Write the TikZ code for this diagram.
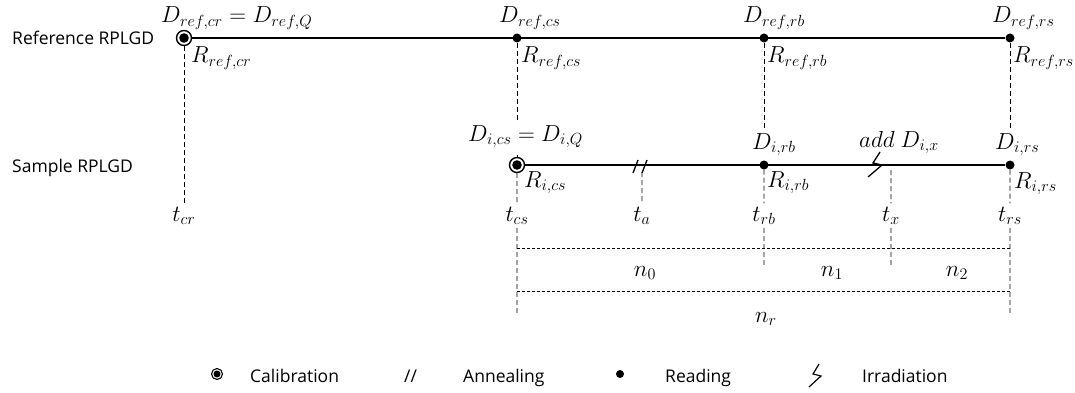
\documentclass[tikz,border=0pt]{standalone}
\usepackage{fontspec}
\setmainfont{Open Sans}

\tikzset{
  timeline/.style={line width=1.6pt},
  vdash/.style={line width=0.9pt, dash pattern=on 5pt off 3pt},
  ndot/.style={line width=0.9pt, dash pattern=on 3pt off 2pt},
  reading/.style={circle, fill, inner sep=0pt, minimum size=#1},
  reading/.default=9pt,
  calib/.style={circle, draw, fill=white, inner sep=0pt, line width=1.4pt, minimum size=#1,
    path picture={\fill[black] (path picture bounding box.center) circle (0.32*#1);}},
  calib/.default=15pt,
  rowlabel/.style={font=\fontsize{17.5}{21}\selectfont, inner sep=0pt, anchor=base west},
  mlabel/.style={font=\fontsize{20}{24}\selectfont, scale=1.12, inner sep=0pt, anchor=base west},
  mbox/.style={mlabel, fill=white, inner sep=3.5pt},
  tlabel/.style={font=\fontsize{20}{24}\selectfont, scale=1.12, inner sep=0pt, outer sep=3pt, anchor=base},
}

\begin{document}
\begin{tikzpicture}[x=1pt,y=-1pt]
\path[use as bounding box, fill=white] (0,0) rectangle (1075,393);

% row labels
\node[rowlabel] (refrow) at (12,45) {Reference RPLGD};
\node[rowlabel] (smprow) at (12,172) {Sample RPLGD};

% reference RPLGD
\node[calib] (refcr) at (184,38) {};
\node[reading] (refcs) at (517,38) {};
\node[reading] (refrb) at (764,38) {};
\node[reading] (refrs) at (1010,38) {};
\draw[timeline] (refcr) -- (refrs);

% sample RPLGD
\node[calib] (smpcs) at (517,165) {};
\coordinate (ann) at (640,165);
\node[reading] (smprb) at (764,165) {};
\coordinate (irr) at (876,165);
\node[reading] (smprs) at (1010,165) {};
\draw[timeline] (smpcs) -- (smprs);
\draw[line width=1.3pt] (ann) ++(-7,8) -- ++(5,-13) (ann) ++(2,8) -- ++(5,-13);
\draw[line width=1.3pt] (irr) ++(4,-13) -- ++(-7,11) -- ++(9,2) -- ++(-14,12);

% time marks
\node[tlabel] (tcr) at (184,221) {$t_{cr}$};
\node[tlabel] (tcs) at (517,221) {$t_{cs}$};
\node[tlabel] (ta) at (642,221) {$t_a$};
\node[tlabel] (trb) at (764,221) {$t_{rb}$};
\node[tlabel] (tx) at (891,221) {$t_x$};
\node[tlabel] (trs) at (1010,221) {$t_{rs}$};
\coordinate (atop) at (642,172);
\coordinate (xtop) at (891,170);
\coordinate (csend) at (517,313);
\coordinate (rbend) at (764,267);
\coordinate (xend) at (891,267);
\coordinate (rsend) at (1010,314);

\draw[vdash] (refcr) -- (tcr);
\draw[vdash] (refcs) -- (smpcs);
\draw[vdash] (smpcs) -- (tcs);
\draw[vdash] (refrb) -- (smprb);
\draw[vdash] (smprb) -- (trb);
\draw[vdash] (refrs) -- (smprs);
\draw[vdash] (smprs) -- (trs);
\draw[vdash] (atop) -- (ta);
\draw[vdash] (xtop) -- (tx);
\draw[vdash] (tcs) -- (csend);
\draw[vdash] (trb) -- (rbend);
\draw[vdash] (tx) -- (xend);
\draw[vdash] (trs) -- (rsend);

% dose and reading labels
\node[mlabel] (drefcr) at (161,23) {$D_{ref,cr} = D_{ref,Q}$};
\node[mlabel] (drefcs) at (499,23) {$D_{ref,cs}$};
\node[mlabel] (drefrb) at (743,23) {$D_{ref,rb}$};
\node[mlabel] (drefrs) at (992,23) {$D_{ref,rs}$};
\node[mlabel] (rrefcr) at (191,63) {$R_{ref,cr}$};
\node[mlabel] (rrefcs) at (521,63) {$R_{ref,cs}$};
\node[mlabel] (rrefrb) at (767,63) {$R_{ref,rb}$};
\node[mlabel] (rrefrs) at (1013,63) {$R_{ref,rs}$};

\node[mbox] (dsmpcs) at (464,141) {$D_{i,cs} = D_{i,Q}$};
\node[mbox] (dsmprb) at (748,149) {$D_{i,rb}$};
\node[mlabel] (dsmpx) at (859,147) {$add\ D_{i,x}$};
\node[mbox] (dsmprs) at (991,149) {$D_{i,rs}$};
\node[mlabel] (rsmpcs) at (524,187) {$R_{i,cs}$};
\node[mlabel] (rsmprb) at (767,187) {$R_{i,rb}$};
\node[mlabel] (rsmprs) at (1014,188) {$R_{i,rs}$};

% intervals
\coordinate (nl) at (517,248);
\coordinate (nrt) at (1010,248);
\coordinate (rl) at (517,291);
\coordinate (rr) at (1010,291);
\draw[ndot] (nl) -- (nrt);
\draw[ndot] (rl) -- (rr);
\node[tlabel] (nzero) at (645,276) {$n_0$};
\node[tlabel] (none) at (832,276) {$n_1$};
\node[tlabel] (ntwo) at (957,276) {$n_2$};
\node[tlabel] (nr) at (766,322) {$n_r$};

% legend
\node[calib=11pt, line width=1.1pt] (legcal) at (217,374) {};
\node[rowlabel] (legcaltxt) at (250,382) {Calibration};
\node[rowlabel] (legann) at (404,382) {//};
\node[rowlabel] (leganntxt) at (463,382) {Annealing};
\node[reading=8pt] (legread) at (620,374) {};
\node[rowlabel] (legreadtxt) at (665,382) {Reading};
\coordinate (legirr) at (816,376);
\draw[line width=1.2pt] (legirr) ++(3,-12) -- ++(-6,10) -- ++(8,2) -- ++(-12,11);
\node[rowlabel] (legirrtxt) at (862,382) {Irradiation};
\end{tikzpicture}
\end{document}
